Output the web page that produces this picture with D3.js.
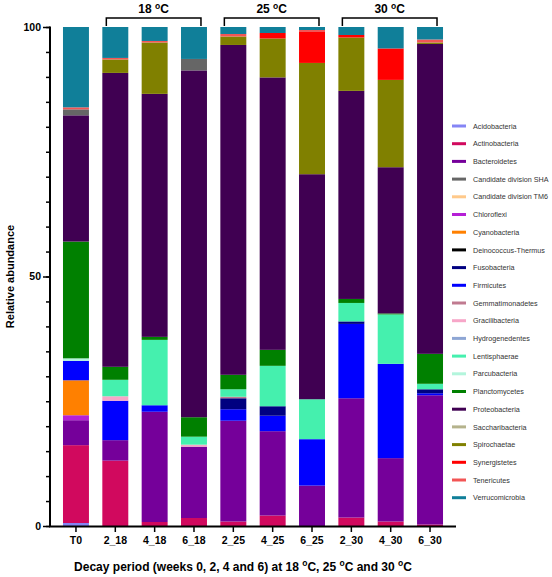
<!DOCTYPE html>
<html>
<head>
<meta charset="utf-8">
<script src="https://cdn.jsdelivr.net/npm/d3@7"></script>
<style>
  body { margin: 0; background: #fff; }
  svg { font-family: Arial, "Liberation Sans", sans-serif; }
</style>
</head>
<body>
<div id="chart"></div>
<script>
// samples: week_temperature
let samples = ['T0', '2_18', '4_18', '6_18', '2_25', '4_25', '6_25', '2_30', '4_30', '6_30']

// legend order
let phyla = [
	'Acidobacteria', 'Actinobacteria', 'Bacteroidetes', 'Candidate division SHA',
	'Candidate division TM6', 'Chloroflexi', 'Cyanobacteria', 'Deinococcus-Thermus',
	'Fusobacteria', 'Firmicutes', 'Gemmatimonadetes', 'Gracilibacteria',
	'Hydrogenedentes', 'Lentisphaerae', 'Parcubacteria', 'Planctomycetes',
	'Proteobacteria', 'Saccharibacteria', 'Spirochaetae', 'Synergistetes',
	'Tenericutes', 'Verrucomicrobia'
]

let colors = [
	'#8585f5', '#d1095e', '#75009a', '#666666',
	'#ffc98a', '#b51fd6', '#ff8000', '#000000',
	'#000080', '#0000ff', '#c07a90', '#f7a6c8',
	'#8ea6d4', '#45f0ae', '#b3f5dc', '#008000',
	'#400052', '#b5b38c', '#808000', '#ff0000',
	'#f25555', '#107f99'
]

// relative abundance per phylum, one value per sample
let acidobacteria   = [0.6, 0, 0, 0, 0, 0, 0, 0, 0, 0]
let actinobacteria  = [15.6, 13.1, 0.8, 1.6, 0.9, 2.1, 0, 1.7, 0.9, 0.3]
let bacteroidetes   = [5.0, 4.1, 22.1, 14.3, 20.2, 16.9, 8.1, 23.9, 12.7, 25.9]
let candidateSHA    = [1.2, 0, 0, 2.3, 0, 0, 0, 0, 0, 0]
let candidateTM6    = [0, 0, 0, 0, 0, 0, 0, 0, 0, 0]
let chloroflexi     = [1.0, 0, 0, 0, 0, 0, 0, 0, 0, 0]
let cyanobacteria   = [7.0, 0, 0, 0, 0, 0, 0, 0, 0, 0]
let deinococcus     = [0, 0, 0, 0, 0, 0, 0, 0, 0, 0]
let fusobacteria    = [0, 0, 0, 0, 2.2, 1.9, 0, 0.5, 0, 0.8]
let firmicutes      = [3.9, 7.9, 1.3, 0, 2.3, 3.1, 9.3, 14.9, 18.9, 0.4]
let gemmatimonadetes = [0, 0, 0, 0, 0.3, 0, 0, 0, 0, 0]
let gracilibacteria = [0, 0.9, 0, 0.4, 0, 0, 0, 0, 0, 0]
let hydrogenedentes = [0, 0, 0, 0, 0, 0, 0, 0, 0, 0]
let lentisphaerae   = [0, 3.3, 13.1, 1.6, 1.5, 8.1, 8.0, 3.7, 9.9, 1.1]
let parcubacteria   = [0.5, 0, 0, 0, 0, 0, 0, 0, 0, 0]
let planctomycetes  = [23.4, 2.6, 0.6, 3.9, 2.9, 3.2, 0, 0.8, 0.2, 6.0]
let proteobacteria  = [25.3, 58.9, 48.7, 69.5, 66.1, 54.6, 45.1, 41.7, 29.3, 62.1]
let saccharibacteria = [0, 0, 0, 0, 0, 0, 0, 0, 0, 0]
let spirochaetae    = [0, 2.7, 10.3, 0, 1.7, 7.8, 22.3, 10.7, 17.5, 0.3]
let synergistetes   = [0, 0, 0, 0, 0, 1.1, 6.2, 0.5, 6.3, 0]
let tenericutes     = [0.4, 0.3, 0.3, 0, 0.5, 0, 0.4, 0, 0, 0.6]
let verrucomicrobia = [16.1, 6.2, 2.8, 6.4, 1.4, 1.2, 0.6, 1.6, 4.3, 2.5]

let series = [
	acidobacteria, actinobacteria, bacteroidetes, candidateSHA,
	candidateTM6, chloroflexi, cyanobacteria, deinococcus,
	fusobacteria, firmicutes, gemmatimonadetes, gracilibacteria,
	hydrogenedentes, lentisphaerae, parcubacteria, planctomycetes,
	proteobacteria, saccharibacteria, spirochaetae, synergistetes,
	tenericutes, verrucomicrobia
]

// bottom to top order of the stacked segments
let stackOrder = [
	'Acidobacteria', 'Actinobacteria', 'Bacteroidetes', 'Chloroflexi', 'Cyanobacteria',
	'Deinococcus-Thermus', 'Firmicutes', 'Fusobacteria', 'Gemmatimonadetes',
	'Gracilibacteria', 'Hydrogenedentes', 'Lentisphaerae', 'Parcubacteria',
	'Planctomycetes', 'Proteobacteria', 'Candidate division SHA', 'Candidate division TM6',
	'Saccharibacteria', 'Spirochaetae', 'Synergistetes', 'Tenericutes', 'Verrucomicrobia'
]

let groups = [
	{ label: '18', from: '2_18', to: '6_18' },
	{ label: '25', from: '2_25', to: '6_25' },
	{ label: '30', from: '2_30', to: '6_30' }
]

let yTicks = [0, 50, 100]

let W = 552
let H = 577

let rows = samples.map((s, i) => {
	let row = { sample: s }
	phyla.forEach((p, j) => { row[p] = series[j][i] })
	return row
})

let color = d3.scaleOrdinal().domain(phyla).range(colors)

let x = d3.scaleBand()
	.domain(samples)
	.range([50, 456])
	.paddingInner(0.34)
	.paddingOuter(0.33)

let y = d3.scaleLinear().domain([0, 100]).range([526, 27])

let svg = d3.select('#chart')
	.append('svg')
	.attr('width', W)
	.attr('height', H)

let stacked = d3.stack().keys(stackOrder)(rows)

svg.append('g')
	.selectAll('g')
	.data(stacked)
	.join('g')
	.attr('fill', d => color(d.key))
	.selectAll('rect')
	.data(d => d)
	.join('rect')
	.attr('x', d => x(d.data.sample))
	.attr('y', d => y(d[1]))
	.attr('width', x.bandwidth())
	.attr('height', d => Math.max(0, y(d[0]) - y(d[1])))

// y axis with minor ticks every 5
let yAxis = svg.append('g')
	.attr('transform', 'translate(50,0)')
	.call(d3.axisLeft(y).tickValues(d3.range(0, 101, 5)).tickSize(4).tickFormat(''))
yAxis.selectAll('.tick line').attr('stroke-width', 1.5)
yAxis.select('.domain').remove()

let yMajor = svg.append('g')
	.attr('transform', 'translate(50,0)')
	.call(d3.axisLeft(y).tickValues(yTicks).tickSize(7).tickPadding(2).tickFormat(d3.format('d')))
yMajor.select('.domain').remove()
yMajor.selectAll('.tick line').attr('stroke-width', 1.5)
yMajor.selectAll('text')
	.attr('font-size', 10.5)
	.attr('font-weight', 'bold')
	.attr('fill', '#000')

svg.append('line')
	.attr('x1', 50).attr('x2', 50)
	.attr('y1', y(100) - 0.5).attr('y2', y(0) + 1)
	.attr('stroke', '#000')
	.attr('stroke-width', 2)

// x axis
let xAxis = svg.append('g')
	.attr('transform', `translate(0,${y(0)})`)
	.call(d3.axisBottom(x).tickSize(6).tickPadding(5))
xAxis.select('.domain').remove()
xAxis.selectAll('.tick line').attr('stroke-width', 1.5)
xAxis.selectAll('text')
	.attr('font-size', 10.5)
	.attr('font-weight', 'bold')
	.attr('fill', '#000')

svg.append('line')
	.attr('x1', 49).attr('x2', 456)
	.attr('y1', y(0) + 0.5).attr('y2', y(0) + 0.5)
	.attr('stroke', '#000')
	.attr('stroke-width', 2)

// axis titles
svg.append('text')
	.attr('transform', `translate(14,${y(50)}) rotate(-90)`)
	.attr('text-anchor', 'middle')
	.attr('font-size', 11)
	.attr('font-weight', 'bold')
	.text('Relative abundance')

let xt = svg.append('text')
	.attr('x', 243)
	.attr('y', 571)
	.attr('text-anchor', 'middle')
	.attr('font-size', 12)
	.attr('font-weight', 'bold')
xt.append('tspan').text('Decay period (weeks 0, 2, 4 and 6) at 18 ')
xt.append('tspan').attr('dy', -5).attr('font-size', 8.5).text('o')
xt.append('tspan').attr('dy', 5).text('C, 25 ')
xt.append('tspan').attr('dy', -5).attr('font-size', 8.5).text('o')
xt.append('tspan').attr('dy', 5).text('C and 30 ')
xt.append('tspan').attr('dy', -5).attr('font-size', 8.5).text('o')
xt.append('tspan').attr('dy', 5).text('C')

// temperature brackets
groups.forEach(g => {
	let x1 = x(g.from) + 4
	let x2 = x(g.to) + x.bandwidth() - 6
	svg.append('path')
		.attr('d', `M${x1},${y(100) - 1}V18H${x2}V${y(100) - 1}`)
		.attr('fill', 'none')
		.attr('stroke', '#000')
		.attr('stroke-width', 1.5)
	let t = svg.append('text')
		.attr('x', (x1 + x2) / 2)
		.attr('y', 13)
		.attr('text-anchor', 'middle')
		.attr('font-size', 12)
		.attr('font-weight', 'bold')
	t.append('tspan').text(g.label + ' ')
	t.append('tspan').attr('dy', -4).attr('font-size', 8.5).text('o')
	t.append('tspan').attr('dy', 4).text('C')
})

// legend
let legend = svg.append('g')
	.selectAll('g')
	.data(phyla)
	.join('g')
	.attr('transform', (d, i) => `translate(452,${126 + i * 17.7})`)

legend.append('line')
	.attr('x1', 0).attr('x2', 14)
	.attr('stroke', d => color(d))
	.attr('stroke-width', 3)

legend.append('text')
	.attr('x', 21)
	.attr('y', 2.6)
	.attr('font-size', 7.2)
	.attr('fill', '#333')
	.text(d => d)
</script>
</body>
</html>
